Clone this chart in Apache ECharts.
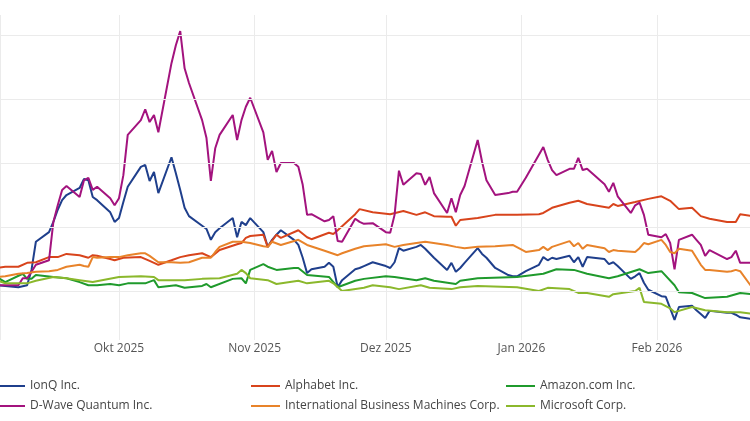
<!DOCTYPE html>
<html>
<head>
<meta charset="utf-8">
<script src="https://cdn.jsdelivr.net/npm/echarts@6/dist/echarts.min.js"></script>
<style>html,body{margin:0;padding:0;background:#fff;}#c{width:750px;height:421px;}</style>
</head>
<body>
<div id="c"></div>
<script>
const monthNames = ['Jan','Feb','Mär','Apr','Mai','Jun','Jul','Aug','Sep','Okt','Nov','Dez'];
const gridValues = [0, 100, 200, 300, 400];

const ionq = [
['2025-09-03',9],['2025-09-05',8],['2025-09-08',6],['2025-09-10',9],['2025-09-11',33],['2025-09-12',77],['2025-09-15',92],['2025-09-16',108],['2025-09-17',127],['2025-09-18',142],['2025-09-19',150],['2025-09-22',161],['2025-09-23',175],['2025-09-24',173],['2025-09-25',147],['2025-09-26',142],['2025-09-29',123],['2025-09-30',108],['2025-10-01',114],['2025-10-02',139],['2025-10-03',163],['2025-10-06',194],['2025-10-07',197],['2025-10-08',172],['2025-10-09',186],['2025-10-10',153],['2025-10-13',209],['2025-10-14',184],['2025-10-15',158],['2025-10-16',130],['2025-10-17',117],['2025-10-20',102],['2025-10-21',97],['2025-10-22',80],['2025-10-23',92],['2025-10-24',98],['2025-10-27',114],['2025-10-28',84],['2025-10-29',108],['2025-10-30',103],['2025-10-31',114],['2025-11-03',92],['2025-11-04',69],['2025-11-05',80],['2025-11-06',88],['2025-11-07',95],['2025-11-10',80],['2025-11-11',72],['2025-11-12',52],['2025-11-13',28],['2025-11-14',34],['2025-11-17',38],['2025-11-18',44],['2025-11-19',38],['2025-11-20',6],['2025-11-21',17],['2025-11-24',34],['2025-11-25',36],['2025-11-26',39],['2025-11-28',45],['2025-12-01',39],['2025-12-02',36],['2025-12-03',45],['2025-12-04',67],['2025-12-05',63],['2025-12-08',69],['2025-12-09',72],['2025-12-10',66],['2025-12-11',59],['2025-12-12',52],['2025-12-15',33],['2025-12-16',44],['2025-12-17',30],['2025-12-18',36],['2025-12-19',44],['2025-12-22',67],['2025-12-23',58],['2025-12-24',52],['2025-12-26',36],['2025-12-29',25],['2025-12-30',23],['2025-12-31',23],['2026-01-02',31],['2026-01-05',41],['2026-01-06',53],['2026-01-07',48],['2026-01-08',52],['2026-01-09',50],['2026-01-12',55],['2026-01-13',45],['2026-01-14',53],['2026-01-15',38],['2026-01-16',53],['2026-01-20',50],['2026-01-21',42],['2026-01-22',45],['2026-01-23',39],['2026-01-26',19],['2026-01-27',23],['2026-01-28',28],['2026-01-29',13],['2026-01-30',2],['2026-02-02',-8],['2026-02-03',-9],['2026-02-04',-27],['2026-02-05',-45],['2026-02-06',-25],['2026-02-09',-23],['2026-02-10',-30],['2026-02-11',-36],['2026-02-12',-42],['2026-02-13',-31],['2026-02-17',-34],['2026-02-18',-34],['2026-02-19',-37],['2026-02-20',-41],['2026-02-23',-44]
];

const dwave = [
['2025-09-03',9],['2025-09-05',9],['2025-09-08',9],['2025-09-09',20],['2025-09-10',20],['2025-09-11',30],['2025-09-12',41],['2025-09-15',48],['2025-09-16',108],['2025-09-17',134],['2025-09-18',158],['2025-09-19',164],['2025-09-22',147],['2025-09-23',173],['2025-09-24',177],['2025-09-25',158],['2025-09-26',163],['2025-09-29',145],['2025-09-30',134],['2025-10-01',145],['2025-10-02',181],['2025-10-03',244],['2025-10-06',267],['2025-10-07',284],['2025-10-08',264],['2025-10-09',275],['2025-10-10',248],['2025-10-13',356],['2025-10-14',384],['2025-10-15',406],['2025-10-16',348],['2025-10-17',325],['2025-10-20',267],['2025-10-21',239],['2025-10-22',172],['2025-10-23',223],['2025-10-24',244],['2025-10-27',275],['2025-10-28',236],['2025-10-29',267],['2025-10-30',288],['2025-10-31',302],['2025-11-03',248],['2025-11-04',205],['2025-11-05',219],['2025-11-06',186],['2025-11-07',200],['2025-11-10',200],['2025-11-11',194],['2025-11-12',166],['2025-11-13',119],['2025-11-14',120],['2025-11-17',109],['2025-11-18',111],['2025-11-19',117],['2025-11-20',78],['2025-11-21',77],['2025-11-24',113],['2025-11-25',108],['2025-11-26',105],['2025-11-28',106],['2025-12-01',92],['2025-12-02',91],['2025-12-03',119],['2025-12-04',188],['2025-12-05',166],['2025-12-08',184],['2025-12-09',183],['2025-12-10',166],['2025-12-11',178],['2025-12-12',153],['2025-12-15',122],['2025-12-16',145],['2025-12-17',123],['2025-12-18',150],['2025-12-19',164],['2025-12-22',236],['2025-12-23',202],['2025-12-24',173],['2025-12-26',150],['2025-12-29',153],['2025-12-30',155],['2025-12-31',155],['2026-01-02',177],['2026-01-05',213],['2026-01-06',225],['2026-01-07',205],['2026-01-08',189],['2026-01-09',181],['2026-01-12',191],['2026-01-13',191],['2026-01-14',208],['2026-01-15',189],['2026-01-16',191],['2026-01-20',167],['2026-01-21',155],['2026-01-22',169],['2026-01-23',148],['2026-01-26',122],['2026-01-27',134],['2026-01-28',138],['2026-01-29',119],['2026-01-30',88],['2026-02-02',84],['2026-02-03',89],['2026-02-04',75],['2026-02-05',34],['2026-02-06',80],['2026-02-09',88],['2026-02-10',80],['2026-02-11',72],['2026-02-12',55],['2026-02-13',64],['2026-02-17',50],['2026-02-18',53],['2026-02-19',63],['2026-02-20',44],['2026-02-23',44]
];

const alphabet = [
['2025-09-03',36],['2025-09-05',38],['2025-09-08',38],['2025-09-10',44],['2025-09-12',45],['2025-09-15',53],['2025-09-17',53],['2025-09-19',58],['2025-09-22',56],['2025-09-24',52],['2025-09-25',56],['2025-09-26',55],['2025-09-29',50],['2025-09-30',48],['2025-10-02',52],['2025-10-06',53],['2025-10-08',47],['2025-10-10',41],['2025-10-13',48],['2025-10-15',53],['2025-10-17',56],['2025-10-20',59],['2025-10-22',53],['2025-10-24',64],['2025-10-28',73],['2025-10-29',75],['2025-10-30',83],['2025-10-31',86],['2025-11-03',88],['2025-11-04',69],['2025-11-06',88],['2025-11-07',83],['2025-11-11',95],['2025-11-13',84],['2025-11-14',81],['2025-11-18',91],['2025-11-19',89],['2025-11-20',95],['2025-11-24',120],['2025-11-25',128],['2025-11-28',123],['2025-12-02',120],['2025-12-05',125],['2025-12-08',119],['2025-12-10',123],['2025-12-12',117],['2025-12-15',116],['2025-12-16',116],['2025-12-17',102],['2025-12-18',111],['2025-12-22',114],['2025-12-26',119],['2025-12-31',119],['2026-01-05',120],['2026-01-06',122],['2026-01-08',130],['2026-01-12',138],['2026-01-14',141],['2026-01-16',136],['2026-01-21',130],['2026-01-22',136],['2026-01-23',133],['2026-01-27',139],['2026-01-30',144],['2026-02-02',148],['2026-02-04',141],['2026-02-06',128],['2026-02-09',130],['2026-02-11',117],['2026-02-13',113],['2026-02-17',108],['2026-02-19',108],['2026-02-20',120],['2026-02-23',117]
];

const ibm = [
['2025-09-03',22],['2025-09-05',23],['2025-09-08',27],['2025-09-10',28],['2025-09-12',30],['2025-09-15',31],['2025-09-17',33],['2025-09-19',38],['2025-09-22',41],['2025-09-23',39],['2025-09-24',38],['2025-09-25',53],['2025-09-26',52],['2025-09-29',53],['2025-10-01',53],['2025-10-03',56],['2025-10-06',59],['2025-10-07',59],['2025-10-08',55],['2025-10-10',45],['2025-10-13',45],['2025-10-15',44],['2025-10-17',45],['2025-10-20',52],['2025-10-22',52],['2025-10-23',61],['2025-10-24',69],['2025-10-27',77],['2025-10-29',77],['2025-10-31',75],['2025-11-03',70],['2025-11-04',69],['2025-11-05',77],['2025-11-07',72],['2025-11-11',80],['2025-11-13',72],['2025-11-17',63],['2025-11-20',56],['2025-11-21',59],['2025-11-24',66],['2025-11-26',70],['2025-12-01',73],['2025-12-03',69],['2025-12-05',72],['2025-12-08',75],['2025-12-10',77],['2025-12-15',72],['2025-12-17',69],['2025-12-19',67],['2025-12-22',69],['2025-12-26',70],['2025-12-30',72],['2026-01-02',61],['2026-01-05',64],['2026-01-06',69],['2026-01-07',64],['2026-01-08',69],['2026-01-12',78],['2026-01-13',70],['2026-01-14',75],['2026-01-15',66],['2026-01-16',72],['2026-01-20',67],['2026-01-21',61],['2026-01-22',64],['2026-01-23',63],['2026-01-27',61],['2026-01-28',67],['2026-01-29',75],['2026-01-30',73],['2026-02-02',80],['2026-02-03',72],['2026-02-04',61],['2026-02-05',59],['2026-02-06',66],['2026-02-09',63],['2026-02-10',52],['2026-02-11',41],['2026-02-12',33],['2026-02-13',33],['2026-02-17',30],['2026-02-18',31],['2026-02-19',33],['2026-02-20',31],['2026-02-23',3]
];

const amazon = [
['2025-09-03',22],['2025-09-05',14],['2025-09-09',27],['2025-09-10',19],['2025-09-11',19],['2025-09-12',25],['2025-09-16',22],['2025-09-19',20],['2025-09-22',14],['2025-09-24',9],['2025-09-26',9],['2025-09-29',11],['2025-10-01',9],['2025-10-03',12],['2025-10-07',12],['2025-10-09',17],['2025-10-10',6],['2025-10-14',9],['2025-10-16',5],['2025-10-20',8],['2025-10-21',11],['2025-10-22',6],['2025-10-27',19],['2025-10-29',20],['2025-10-30',12],['2025-10-31',33],['2025-11-03',42],['2025-11-04',38],['2025-11-06',33],['2025-11-10',36],['2025-11-11',36],['2025-11-13',25],['2025-11-18',22],['2025-11-20',6],['2025-11-24',16],['2025-11-26',19],['2025-12-01',23],['2025-12-03',22],['2025-12-08',17],['2025-12-10',20],['2025-12-12',16],['2025-12-17',11],['2025-12-18',16],['2025-12-22',20],['2025-12-31',22],['2026-01-06',27],['2026-01-09',34],['2026-01-13',33],['2026-01-16',27],['2026-01-21',20],['2026-01-23',23],['2026-01-28',34],['2026-01-30',28],['2026-02-02',31],['2026-02-05',9],['2026-02-06',-2],['2026-02-09',-3],['2026-02-12',-11],['2026-02-17',-9],['2026-02-19',-5],['2026-02-20',-3],['2026-02-23',-5]
];

const microsoft = [
['2025-09-03',17],['2025-09-05',12],['2025-09-10',12],['2025-09-12',16],['2025-09-16',22],['2025-09-19',20],['2025-09-22',17],['2025-09-25',14],['2025-10-01',22],['2025-10-06',23],['2025-10-09',22],['2025-10-10',17],['2025-10-16',17],['2025-10-20',19],['2025-10-24',20],['2025-10-28',27],['2025-10-29',33],['2025-10-30',28],['2025-10-31',20],['2025-11-04',17],['2025-11-06',11],['2025-11-11',16],['2025-11-13',12],['2025-11-18',16],['2025-11-19',12],['2025-11-21',0],['2025-11-26',5],['2025-11-28',9],['2025-12-02',6],['2025-12-04',3],['2025-12-09',9],['2025-12-11',5],['2025-12-16',3],['2025-12-18',6],['2025-12-22',8],['2025-12-31',6],['2026-01-05',0],['2026-01-07',5],['2026-01-12',3],['2026-01-14',-3],['2026-01-16',-3],['2026-01-21',-9],['2026-01-22',-5],['2026-01-27',0],['2026-01-28',5],['2026-01-29',-17],['2026-02-02',-20],['2026-02-04',-27],['2026-02-05',-33],['2026-02-09',-25],['2026-02-12',-30],['2026-02-17',-33],['2026-02-20',-33],['2026-02-23',-36]
];

const seriesDefs = [
  {name: 'IonQ Inc.', data: ionq, color: '#1f3f8c'},
  {name: 'Alphabet Inc.', data: alphabet, color: '#d8441c'},
  {name: 'Amazon.com Inc.', data: amazon, color: '#1f9a2c'},
  {name: 'D-Wave Quantum Inc.', data: dwave, color: '#a3137e'},
  {name: 'International Business Machines Corp.', data: ibm, color: '#e8832a'},
  {name: 'Microsoft Corp.', data: microsoft, color: '#8bb82c'}
];

const chart = echarts.init(document.getElementById('c'), null, {renderer: 'canvas'});
const font = "'Open Sans', sans-serif";
const legendBase = {
  orient: 'vertical', top: 380, padding: 0, icon: 'rect', itemWidth: 29, itemHeight: 2, itemGap: 8,
  textStyle: {fontSize: 12, color: '#444', fontFamily: font}, selectedMode: false
};

const series = [{
  type: 'line', name: '_grid', data: [], z: 0, silent: true,
  markLine: {
    silent: true, symbol: ['none', 'none'], animation: false, label: {show: false},
    lineStyle: {color: '#ebebeb', type: 'solid', width: 1},
    data: gridValues.map(v => ({yAxis: v}))
  }
}].concat(seriesDefs.map(s => ({
  type: 'line', name: s.name, data: s.data, showSymbol: false, symbol: 'none',
  lineStyle: {width: 2, color: s.color}, itemStyle: {color: s.color},
  z: 3, animation: false
})));

chart.setOption({
  animation: false,
  grid: {left: 0, right: 0, top: 15, bottom: 81, containLabel: false},
  xAxis: {
    type: 'time',
    min: '2025-09-03T19:12:00', max: '2026-02-22T06:00:00',
    minInterval: 28 * 86400000, maxInterval: 31 * 86400000,
    axisLine: {show: false}, axisTick: {show: false},
    splitLine: {show: true, lineStyle: {color: '#ebebeb', width: 1}},
    axisLabel: {
      color: '#555', fontSize: 12, fontFamily: font, margin: 3,
      showMinLabel: false, showMaxLabel: false,
      formatter: function (val) { const d = new Date(val); return monthNames[d.getMonth()] + ' ' + d.getFullYear(); }
    }
  },
  yAxis: {
    type: 'value', min: -76.5, max: 431.25,
    axisLine: {show: false}, axisTick: {show: false}, axisLabel: {show: false},
    splitLine: {show: false}
  },
  legend: [
    Object.assign({}, legendBase, {left: -4, data: ['IonQ Inc.', 'D-Wave Quantum Inc.']}),
    Object.assign({}, legendBase, {left: 251, data: ['Alphabet Inc.', 'International Business Machines Corp.']}),
    Object.assign({}, legendBase, {left: 506, data: ['Amazon.com Inc.', 'Microsoft Corp.']})
  ],
  series: series
});
</script>
</body>
</html>
